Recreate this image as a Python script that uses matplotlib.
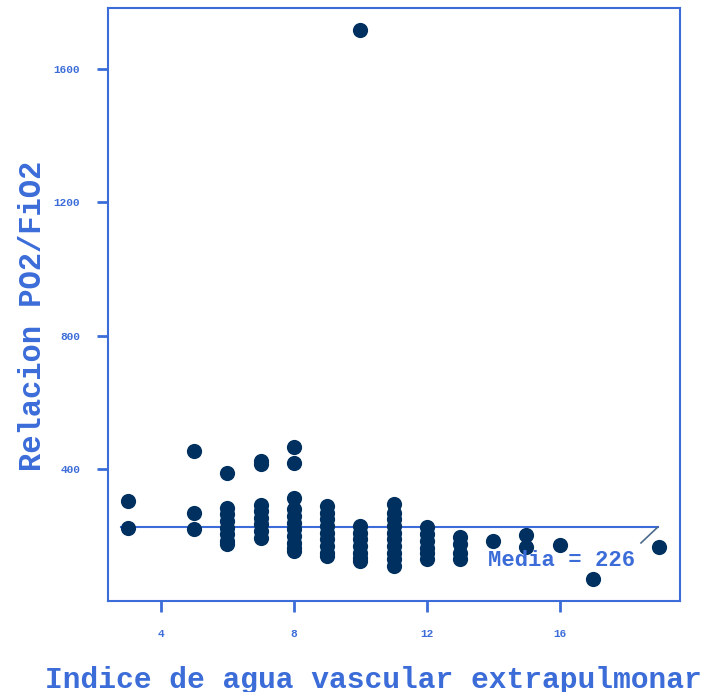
import matplotlib
matplotlib.use("Agg")
import matplotlib.pyplot as plt

# Extravascular lung water index vs PaO2/FiO2 ratio
x_groups = [3, 5, 6, 7, 8, 9, 10, 11, 12, 13, 14, 15, 16, 17, 19]
y_groups = [
    [305, 225],
    [455, 268, 220],
    [390, 285, 265, 245, 225, 205, 185, 175],
    [425, 415, 294, 275, 255, 235, 215, 195],
    [465, 420, 315, 280, 260, 240, 220, 200, 180, 165, 155],
    [290, 270, 250, 230, 210, 190, 170, 150, 140],
    [1715, 230, 210, 190, 170, 150, 135, 125],
    [295, 270, 250, 230, 210, 190, 170, 150, 130, 110],
    [228, 205, 185, 165, 150, 130],
    [197, 175, 150, 130],
    [184],
    [204, 168],
    [174],
    [70],
    [168],
]
media = 226
x_ticks = [4, 8, 12, 16]
y_ticks = [400, 800, 1200, 1600]
x_label = "Indice de agua vascular extrapulmonar"
y_label = "Relacion PO2/FiO2"

blue = "#3b6cd8"
navy = "#00305f"
font = "Liberation Mono"

xs, ys = [], []
for xv, vals in zip(x_groups, y_groups):
    for v in vals:
        xs.append(xv)
        ys.append(v)

fig = plt.figure(figsize=(7.10, 6.92), dpi=100)
ax = fig.add_axes([0.152, 0.1315, 0.806, 0.857])

ax.scatter(xs, ys, s=120, color=navy, zorder=3, linewidths=0)

# mean reference line with its label leader
x_lo, x_hi = 2.8, 18.95
ax.plot([x_lo, x_hi], [media, media], color=blue, lw=1.5, zorder=2)
ax.plot([x_hi, 18.45], [media, media - 47], color="#4a6a8a", lw=1.2, zorder=2)
ax.text(13.85, media - 100, f"Media = {media}", color=blue, fontsize=16,
        family=font, weight="bold", ha="left", va="center", zorder=4)

ax.set_xlim(2.4, 19.63)
ax.set_ylim(5, 1782)
ax.set_xticks(x_ticks)
ax.set_yticks(y_ticks)
ax.set_xticklabels([str(t) for t in x_ticks])
ax.set_yticklabels([str(t) for t in y_ticks])

for sp in ax.spines.values():
    sp.set_color(blue)
    sp.set_linewidth(1.5)

ax.tick_params(axis="both", colors=blue, direction="out", length=8, width=2,
               labelsize=8, pad=12)
for lbl in ax.get_xticklabels() + ax.get_yticklabels():
    lbl.set_family(font)
    lbl.set_weight("bold")

# axis titles placed in figure coordinates
fig.text(0.526, 0.018, x_label, color=blue, fontsize=21.3, family=font,
         weight="bold", ha="center", va="center")
fig.text(0.047, 0.543, y_label, color=blue, fontsize=22, family=font,
         weight="bold", ha="center", va="center", rotation=90)

fig.savefig("out.png", dpi=100, facecolor="white")
